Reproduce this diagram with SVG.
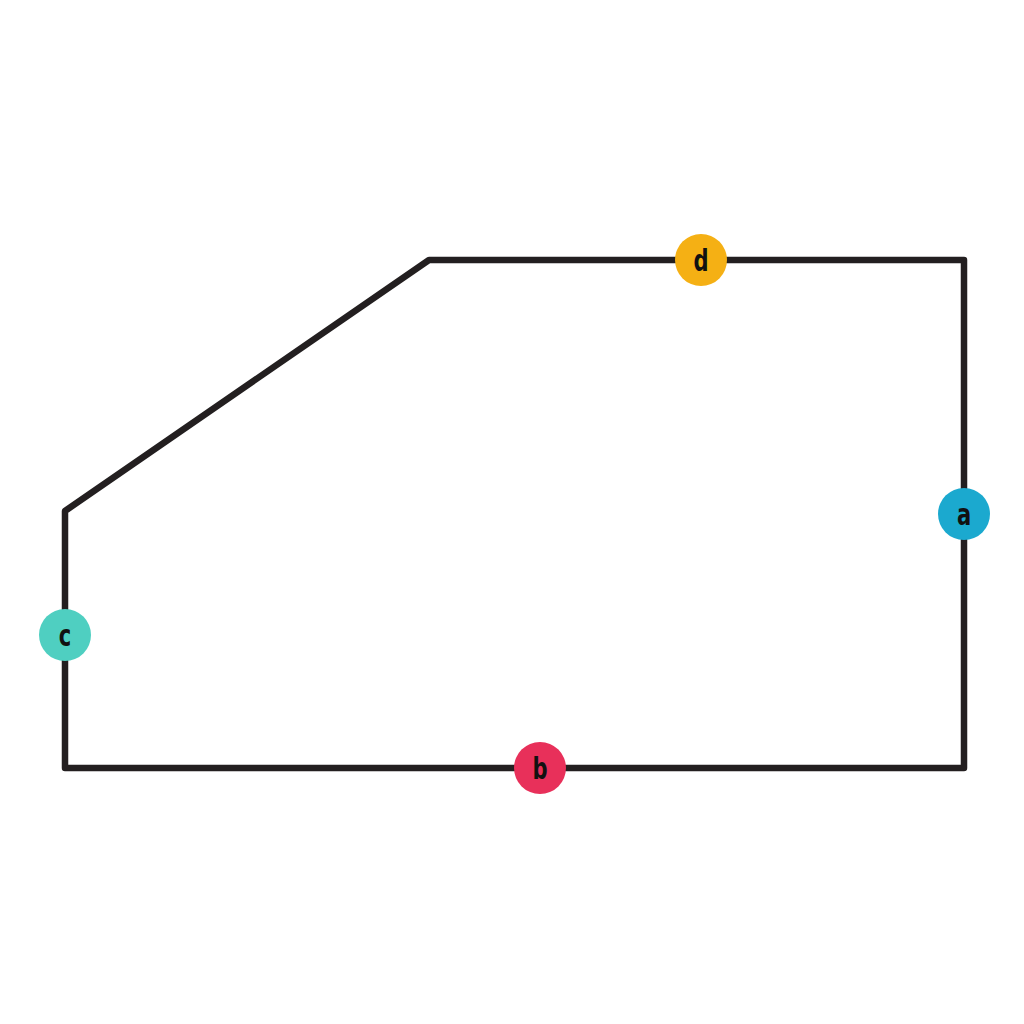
<svg xmlns="http://www.w3.org/2000/svg" width="1024" height="1024" viewBox="0 0 1024 1024">
<style>
.edge{fill:none;stroke:#231f20;stroke-width:6.5;stroke-linejoin:round;stroke-linecap:round}
.lbl{font-family:"DejaVu Sans Condensed","DejaVu Sans",sans-serif;font-stretch:condensed;font-weight:bold;font-size:30px;fill:#111;text-anchor:middle}
</style>
<rect width="1024" height="1024" fill="#fff"/>
<g id="connectors">
<polygon class="edge" points="65,511 429,260 964,260 964,768 65,768"/>
</g>
<g id="node-d"><circle cx="701" cy="260" r="26" fill="#f5b014"/><text class="lbl" transform="translate(701,271) scale(0.78,1)">d</text></g>
<g id="node-a"><circle cx="964" cy="514" r="26" fill="#1ba9cf"/><text class="lbl" transform="translate(964,525) scale(0.78,1)">a</text></g>
<g id="node-c"><circle cx="65" cy="635" r="26" fill="#4fcfc1"/><text class="lbl" transform="translate(65,646) scale(0.78,1)">c</text></g>
<g id="node-b"><circle cx="540" cy="768" r="26" fill="#e8305a"/><text class="lbl" transform="translate(540,779) scale(0.78,1)">b</text></g>
</svg>
